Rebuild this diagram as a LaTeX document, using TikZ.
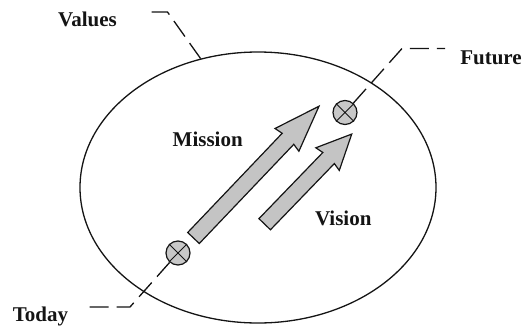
\documentclass[tikz,border=0pt]{standalone}
\usepackage{fontspec}
\setmainfont{Liberation Serif}
\usepackage{tikz}
\usetikzlibrary{shapes.geometric}
\definecolor{colArrow}{RGB}{196,196,196}
\definecolor{colMark} {RGB}{200,200,200}
\definecolor{colLine} {RGB}{ 20, 20, 20}
\tikzset{
  fieldnode/.style={
    ellipse, draw=colLine, line width=1.3pt,
    minimum width=356pt, minimum height=271pt, inner sep=0pt
  },
  marknode/.style={
    circle, draw=colLine, fill=colMark, line width=1.2pt,
    minimum size=24pt, inner sep=0pt
  },
  lbl/.style={
    font=\fontsize{21}{25}\selectfont\bfseries, text=colLine,
    inner sep=0pt, anchor=base
  },
  leader/.style={
    line width=1.3pt, color=colLine, dash pattern=on 19pt off 8pt
  },
  blockarrow/.style={
    draw=colLine, fill=colArrow, line width=1.2pt, line join=miter
  },
}

\begin{document}
\begin{tikzpicture}[x=1pt, y=-1pt]
\useasboundingbox (0,0) rectangle (523,327);

%% ══════════════════════════════════════════════════════════════
%%  FIELD  (the big ellipse)
%% ══════════════════════════════════════════════════════════════
\node[fieldnode] (field) at (258,187.5) {};

%% ══════════════════════════════════════════════════════════════
%%  MARKERS  (today / future)
%% ══════════════════════════════════════════════════════════════
\node[marknode] (today)  at (178,253)   {};
\node[marknode] (future) at (345,112.5) {};
\foreach \m in {today, future}
  \draw[line width=1pt, colLine] (\m.north west) -- (\m.south east)
                                 (\m.north east) -- (\m.south west);

%% ══════════════════════════════════════════════════════════════
%%  BLOCK ARROWS
%% ══════════════════════════════════════════════════════════════
% mission arrow
\begin{scope}[shift={(193.5,238)}, rotate=46.4]
  \draw[blockarrow] (0,8) -- (137,8) -- (135.5,16.5) -- (182,0)
    -- (135.5,-16.5) -- (137,-8) -- (0,-8) -- cycle;
\end{scope}

% vision arrow
\begin{scope}[shift={(264.7,224.2)}, rotate=46]
  \draw[blockarrow] (0,8) -- (92,8) -- (90.5,16.3) -- (125.3,0)
    -- (90.5,-16.3) -- (92,-8) -- (0,-8) -- cycle;
\end{scope}

%% ══════════════════════════════════════════════════════════════
%%  LABELS
%% ══════════════════════════════════════════════════════════════
\node[lbl] (values)    at (87.5,26.7)  {Values};
\node[lbl] (mission)   at (207.7,146.7) {Mission};
\node[lbl] (vision)    at (343.3,225.7) {Vision};
\node[lbl] (futurelbl) at (491,64)     {Future};
\node[lbl] (todaylbl)  at (40.5,321.5) {Today};

%% ══════════════════════════════════════════════════════════════
%%  LEADERS  (dashed)
%% ══════════════════════════════════════════════════════════════
\coordinate (valuesbend) at (167.5,12);
\coordinate (valuesend)  at (146,12);
\draw[leader] (field.114.7) -- (valuesbend) -- (valuesend);

\coordinate (futurebend) at (402,48.5);
\coordinate (futureend)  at (445,48.5);
\draw[leader] (future) -- (futurebend) -- (futureend);

\coordinate (todaybend) at (130,307);
\coordinate (todayend)  at (86,307);
\draw[leader] (today) -- (todaybend) -- (todayend);

\end{tikzpicture}
\end{document}
